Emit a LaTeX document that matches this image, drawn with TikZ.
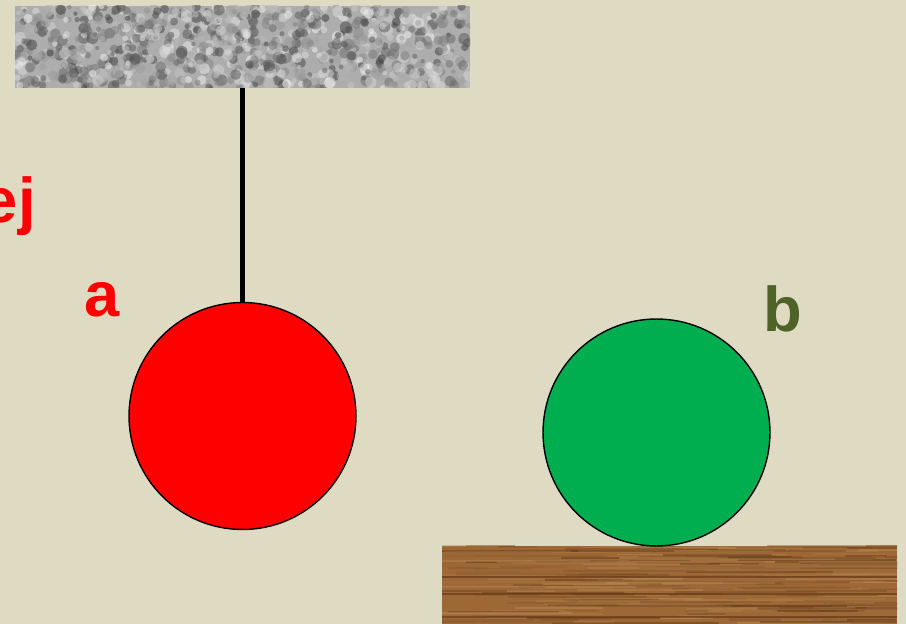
\documentclass[tikz,border=0pt]{standalone}
\usepackage{fontspec}
\setmainfont{Liberation Sans}
\definecolor{bgbeige}{HTML}{DFDBC3}
\definecolor{ballred}{HTML}{FF0000}
\definecolor{ballgreen}{HTML}{00AE50}
\definecolor{labelolive}{HTML}{4F6228}
\definecolor{woodbase}{HTML}{9E6836}
\definecolor{wooddark}{HTML}{5E3210}
\definecolor{woodlight}{HTML}{BE8E56}
\begin{document}
\begin{tikzpicture}[x=0.02cm, y=-0.02cm,
    ball/.style={circle, draw=black, line width=0.8pt, minimum size=4.54cm, inner sep=0pt},
    slab/.style={rectangle, minimum width=9.1cm, inner sep=0pt},
    letter/.style={font=\fontsize{36}{40}\selectfont\bfseries, anchor=base, inner sep=0pt}]
    \useasboundingbox (0,0) rectangle (906,624);
    \clip (0,0) rectangle (906,624);
    % Background
    \fill[bgbeige] (0,0) rectangle (906,624);

    % Granite ceiling
    \begin{scope}
        \clip (15,6) rectangle (470,88);
        \fill[black!32] (15,6) rectangle (470,88);
        \pgfmathsetseed{7}
        \foreach \i in {1,...,1000} {
            \pgfmathsetmacro{\px}{15+455*rnd}
            \pgfmathsetmacro{\py}{6+82*rnd}
            \pgfmathsetmacro{\pg}{5+70*rnd}
            \pgfmathsetmacro{\pr}{1.2+2.2*rnd}
            \fill[black!\pg!white, opacity=0.55] (\px,\py) circle[radius=\pr pt];
        }
    \end{scope}

    % Wooden table
    \begin{scope}
        \clip (442,546) rectangle (897,624);
        \fill[woodbase] (442,546) rectangle (897,624);
        \pgfmathsetseed{11}
        \foreach \i in {1,...,260} {
            \pgfmathsetmacro{\wx}{420+470*rnd}
            \pgfmathsetmacro{\wy}{546+78*rnd}
            \pgfmathsetmacro{\wl}{30+140*rnd}
            \pgfmathsetmacro{\wc}{100*rnd}
            \draw[wooddark!\wc!woodlight, line width=1.1pt, opacity=0.45] (\wx,\wy) -- ++(\wl,0);
        }
        % Dark grain lines
        \foreach \gy/\gw in {577/1.4, 594/1.6, 617/1.2} {
            \draw[wooddark, line width=\gw pt, opacity=0.6] (442,\gy) -- (897,\gy);
        }
    \end{scope}

    % Named parts
    \node[slab, minimum height=1.64cm] (ceiling) at (242.5,47) {};
    \node[slab, minimum height=1.56cm] (table) at (669.5,585) {};
    \node[ball, fill=ballred] (ballA) at (242.5,416) {};
    \node[ball, fill=ballgreen] (ballB) at (656.5,432.5) {};

    % String
    \draw[line width=2.3pt] (ceiling.south) -- (ballA.north);

    % Labels
    \node[letter, text=ballred, anchor=base east] (labelEj) at (36,223) {ej};
    \node[letter, text=ballred] (labelA) at (102,317) {a};
    \node[letter, text=labelolive] (labelB) at (783,332) {b};
\end{tikzpicture}
\end{document}
